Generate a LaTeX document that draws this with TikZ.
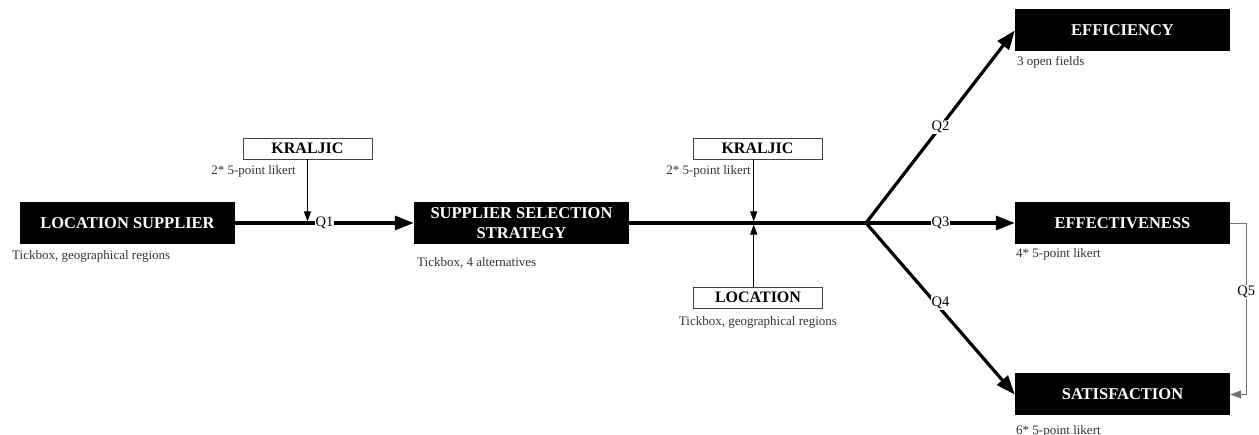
\documentclass[tikz,border=0pt]{standalone}
\usepackage{fontspec}
\setmainfont{Liberation Serif}
\usetikzlibrary{arrows.meta}
\begin{document}
\begin{tikzpicture}[x=1pt,y=-1pt,
  bigbox/.style={fill=black, text=white, font=\fontsize{16.5}{20}\selectfont\bfseries,
    minimum width=215pt, minimum height=42pt, inner sep=0pt, align=center},
  smallbox/.style={draw=black!75, line width=0.8pt, fill=white,
    font=\fontsize{16}{16}\selectfont\bfseries,
    minimum width=129pt, minimum height=21pt, inner sep=0pt},
  caption/.style={text=black!80, font=\fontsize{13}{14}\selectfont, inner sep=0pt},
  qlabel/.style={fill=white, font=\fontsize{14.5}{15}\selectfont, inner sep=1pt},
  flow/.style={line width=3.2pt, -{Triangle[length=19pt,width=14pt]}},
  trunk/.style={line width=3.2pt},
  feed/.style={line width=0.9pt, -{Triangle[length=10pt,width=7pt]}},
  loopback/.style={line width=0.9pt, draw=black!55, -{Triangle[length=11pt,width=8pt]}}
]
\useasboundingbox (0,0) rectangle (1259,435);

% main boxes
\node[bigbox] (LS)  at (127.5,223) {LOCATION SUPPLIER};
\node[bigbox] (SSS) at (521.5,223) {SUPPLIER SELECTION\\STRATEGY};
\node[bigbox] (EFFI) at (1122.5,30.5) {EFFICIENCY};
\node[bigbox] (EFFE) at (1122.5,223) {EFFECTIVENESS};
\node[bigbox] (SAT)  at (1122.5,394.5) {SATISFACTION};

% moderator boxes
\node[smallbox] (K1)  at (307.5,148.5) {KRALJIC};
\node[smallbox] (K2)  at (757.5,148.5) {KRALJIC};
\node[smallbox] (LOC) at (758,297.5) {LOCATION};

% captions
\node[caption, anchor=west] (cLS)  at (12,256) {Tickbox, geographical regions};
\node[caption, anchor=west] (cSSS) at (417,263) {Tickbox, 4 alternatives};
\node[caption, anchor=east] (cK1)  at (296,171) {2* 5-point likert};
\node[caption, anchor=east] (cK2)  at (751,171) {2* 5-point likert};
\node[caption] (cLOC) at (758,322) {Tickbox, geographical regions};
\node[caption, anchor=west] (cEFFI) at (1017,62) {3 open fields};
\node[caption, anchor=west] (cEFFE) at (1016,254) {4* 5-point likert};
\node[caption, anchor=west] (cSAT)  at (1016,431) {6* 5-point likert};

% junction points
\coordinate (branch) at (866,223);
\coordinate (k1hit) at (307.5,221.4);
\coordinate (k2hit) at (753.7,221.4);
\coordinate (lochit) at (753.7,224.6);

% flows
\draw[flow] (LS.east) -- node[qlabel, pos=0.5] {Q1} (SSS.west);
\draw[trunk] (SSS.east) -- (branch);
\draw[flow] (branch) -- node[qlabel, pos=0.5] {Q2} (EFFI.west);
\draw[flow] (branch) -- node[qlabel, pos=0.5] {Q3} (EFFE.west);
\draw[flow] (branch) -- node[qlabel, pos=0.5, yshift=6pt] {Q4} (SAT.west);

% moderating effects
\draw[feed] (K1.south) -- (k1hit);
\draw[feed] (k2hit |- K2.south) -- (k2hit);
\draw[feed] (lochit |- LOC.north) -- (lochit);

% feedback from effectiveness to satisfaction
\draw[loopback] (EFFE.east) -- ++(16,0) |- node[qlabel, pos=0.2] {Q5} (SAT.east);
\end{tikzpicture}
\end{document}
